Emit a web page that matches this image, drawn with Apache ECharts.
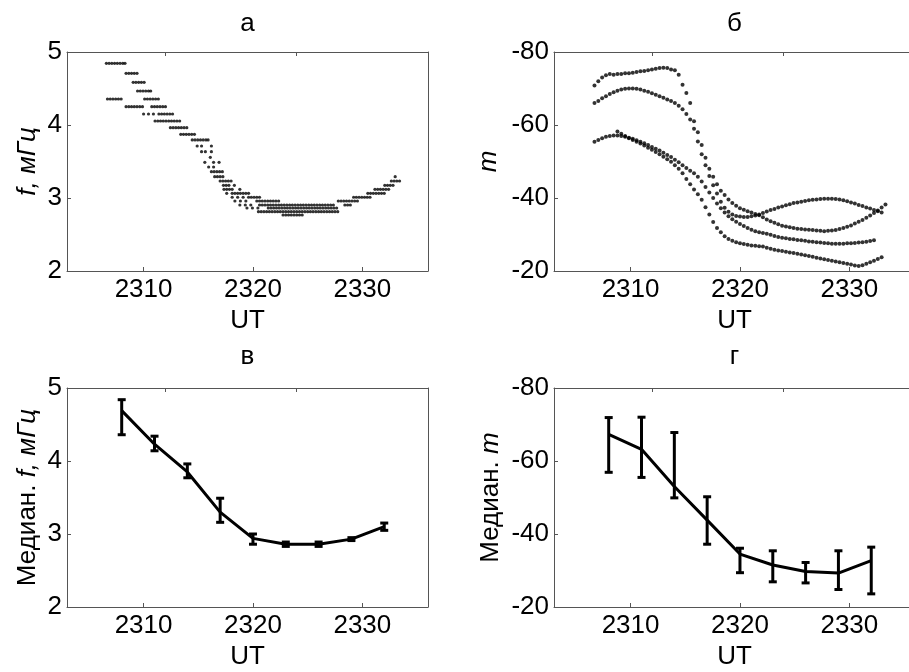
<!DOCTYPE html>
<html>
<head>
<meta charset="utf-8">
<script src="https://cdn.jsdelivr.net/npm/echarts@6/dist/echarts.min.js"></script>
<style>html,body{margin:0;padding:0;background:#fff}#c{width:909px;height:672px}</style>
</head>
<body>
<div id="c"></div>
<script>
// ---------- DATA ----------
const xTickVals = [2310, 2320, 2330];
const xTopTickVals = [2312, 2324];
const titles = ['а', 'б', 'в', 'г'];

// Panel а: quantized frequency levels (mHz) and UT times at which each level occurs
const fLevels = [4.845, 4.708, 4.585, 4.466, 4.356, 4.251, 4.151, 4.055, 3.963, 3.872, 3.795, 3.712, 3.635, 3.557,
  3.489, 3.425, 3.361, 3.292, 3.233, 3.174, 3.119, 3.064, 3.010, 2.959, 2.904, 2.863, 2.813, 2.767];
const fTimes = [
  [2306.6, 2306.85, 2307.1, 2307.35, 2307.6, 2307.85, 2308.1, 2308.3],
  [2308.4, 2308.65, 2308.9, 2309.15, 2309.4],
  [2309.05, 2309.3, 2309.55, 2309.8, 2310.05],
  [2309.45, 2309.7, 2309.95, 2310.2, 2310.45, 2310.65],
  [2306.7, 2306.95, 2307.2, 2307.45, 2307.7, 2307.95, 2310.1, 2310.35, 2310.6, 2310.85, 2311.1, 2311.35],
  [2308.4, 2308.65, 2308.9, 2309.15, 2309.4, 2309.65, 2309.9, 2310.75, 2311.0, 2311.25, 2311.5, 2311.75, 2312.0],
  [2310.0, 2310.45, 2310.9, 2311.4, 2311.65, 2311.9, 2312.15, 2312.4, 2312.65],
  [2311.05, 2311.3, 2311.55, 2311.8, 2312.05, 2312.3, 2312.55, 2312.8, 2313.05, 2313.3],
  [2312.45, 2312.7, 2312.95, 2313.2, 2313.45, 2313.7, 2313.95],
  [2313.4, 2313.65, 2313.9, 2314.15, 2314.4, 2314.65],
  [2314.45, 2314.7, 2314.95, 2315.2, 2315.45, 2315.7, 2315.9],
  [2314.9, 2315.3, 2316.2],
  [2315.3, 2315.65, 2316.2],
  [2316.1],
  [2315.6, 2316.4, 2316.9],
  [2315.95, 2316.4],
  [2316.2, 2316.45, 2316.7, 2316.95, 2317.2],
  [2316.5, 2316.75, 2317.0, 2317.25, 2333.0],
  [2317.0, 2317.25, 2317.5, 2317.75, 2318.0, 2332.65, 2332.9, 2333.15, 2333.4],
  [2317.3, 2317.55, 2317.8, 2318.3, 2332.05, 2332.3, 2332.55, 2332.8],
  [2317.35, 2317.6, 2317.85, 2318.1, 2318.8, 2331.15, 2331.4, 2331.65, 2331.9, 2332.15, 2332.4],
  [2317.6, 2318.1, 2318.35, 2318.6, 2318.85, 2319.1, 2319.35, 2319.6, 2330.5, 2330.75, 2331.0, 2331.25, 2331.5, 2331.75, 2332.0],
  [2318.1, 2318.6, 2319.1, 2319.6, 2319.85, 2320.1, 2320.35, 2320.6, 2329.2, 2329.45, 2329.7, 2329.95, 2330.2, 2330.45, 2330.7],
  [2318.35, 2318.85, 2319.35, 2320.35, 2320.6, 2320.85, 2321.1, 2321.35, 2321.6, 2321.85, 2322.1, 2322.35,
   2327.8, 2328.05, 2328.3, 2328.55, 2328.8, 2329.05, 2329.3, 2329.55],
  [2318.8, 2319.3, 2319.8, 2320.6, 2320.85, 2321.1, 2321.35, 2321.6, 2321.85, 2322.1, 2322.35, 2322.6, 2322.85,
   2323.1, 2323.35, 2323.6, 2323.85, 2324.1, 2324.35, 2324.6, 2324.85, 2325.1, 2325.35, 2325.6, 2325.85, 2326.1,
   2326.35, 2326.6, 2326.85, 2327.1, 2327.35, 2328.4, 2328.65, 2328.9],
  [2319.45, 2319.95, 2320.45, 2321.4, 2321.65, 2321.9, 2322.15, 2322.4, 2322.65, 2322.9, 2323.15, 2323.4, 2323.65,
   2323.9, 2324.15, 2324.4, 2324.65, 2324.9, 2325.15, 2325.4, 2325.65, 2325.9, 2326.15, 2326.4, 2326.65, 2326.9,
   2327.15, 2327.4, 2327.65],
  [2320.5, 2320.75, 2321.0, 2321.25, 2321.5, 2321.75, 2322.0, 2322.25, 2322.5, 2322.75, 2323.0, 2323.25, 2323.5,
   2323.75, 2324.0, 2324.25, 2324.5, 2324.75, 2325.0, 2325.25, 2325.5, 2325.75, 2326.0, 2326.25, 2326.5, 2326.75,
   2327.0, 2327.25, 2327.5, 2327.75],
  [2322.75, 2323.0, 2323.25, 2323.5, 2323.75, 2324.0, 2324.25, 2324.5]
];

// Panel б: azimuthal number m for four modes
const utB = [2306.7,2307.05,2307.4,2307.75,2308.1,2308.45,2308.8,2309.15,2309.5,2309.85,
  2310.2,2310.55,2310.9,2311.25,2311.6,2311.95,2312.3,2312.65,2313.0,2313.35,
  2313.7,2314.05,2314.4,2314.75,2315.1,2315.45,2315.8,2316.15,2316.5,2316.85,
  2317.2,2317.55,2317.9,2318.25,2318.6,2318.95,2319.3,2319.65,2320.0,2320.35,
  2320.7,2321.05,2321.4,2321.75,2322.1,2322.45,2322.8,2323.15,2323.5,2323.85,
  2324.2,2324.55,2324.9,2325.25,2325.6,2325.95,2326.3,2326.65,2327.0,2327.35,
  2327.7,2328.05,2328.4,2328.75,2329.1,2329.45,2329.8,2330.15,2330.5,2330.85,
  2331.2,2331.55,2331.9,2332.25,2332.6,2332.95,2333.3];
const m1 = [-70.8,-72.0,-73.0,-73.6,-74.0,-73.8,-74.0,-74.0,-74.2,-74.2,
  -74.3,-74.5,-74.7,-74.8,-75.0,-75.2,-75.4,-75.6,-75.7,-75.6,
  -75.2,-75.0,-73.8,-71.0,-68.8,-66.0,-61.0,-58.0,-54.5,-51.0,
  -48.0,-45.8,-43.8,-42.0,-40.8,-39.6,-38.6,-37.9,-37.2,-36.8,
  -36.4,-36.0,-35.6,-35.3,-34.7,-34.1,-33.6,-33.2,-32.8,-32.4,
  -32.2,-32.0,-31.8,-31.6,-31.5,-31.4,-31.3,-31.2,-31.1,-31.0,
  -30.9,-31.0,-31.1,-31.2,-31.5,-31.8,-32.1,-32.5,-33.0,-33.5,
  -34.0,-34.6,-35.2,-35.9,-36.6,-37.4,-38.2];
const m2 = [-66.0,-66.6,-67.3,-67.9,-68.5,-69.0,-69.4,-69.7,-69.9,-70.0,
  -70.0,-69.9,-69.7,-69.4,-69.1,-68.7,-68.3,-67.9,-67.5,-67.0,
  -66.6,-66.0,-65.3,-64.3,-63.0,-61.5,-59.0,-55.5,-52.0,-49.0,
  -46.0,-43.5,-41.2,-39.0,-37.3,-36.2,-35.5,-35.1,-34.9,-34.8,
  -34.8,-35.0,-35.2,-35.5,-35.9,-36.3,-36.7,-37.0,-37.4,-37.7,
  -38.0,-38.3,-38.6,-38.8,-39.0,-39.2,-39.4,-39.5,-39.6,-39.7,
  -39.8,-39.8,-39.8,-39.7,-39.6,-39.4,-39.1,-38.8,-38.5,-38.1,
  -37.8,-37.4,-37.1,-36.7,-36.4,-36.0,null];
const m3 = [-55.4,-55.9,-56.4,-56.8,-57.0,-57.1,-57.1,-57.0,-56.8,-56.5,
  -56.2,-55.8,-55.4,-55.0,-54.5,-54.0,-53.5,-53.0,-52.4,-51.8,
  -51.2,-50.5,-49.8,-49.0,-48.2,-47.5,-46.8,-45.8,-44.5,-43.0,
  -41.5,-40.0,-38.5,-37.2,-36.0,-35.0,-34.2,-33.5,-32.9,-32.3,
  -31.8,-31.3,-30.9,-30.6,-30.4,-30.2,-29.9,-29.6,-29.3,-29.1,
  -29.0,-28.8,-28.7,-28.5,-28.4,-28.3,-28.1,-28.0,-27.9,-27.8,
  -27.7,-27.6,-27.5,-27.5,-27.5,-27.5,-27.6,-27.6,-27.7,-27.8,
  -27.9,-28.0,-28.2,-28.4,null,null,null];
const m4 = [null,null,null,null,null,null,-58.2,-57.6,-57.0,-56.4,
  -55.9,-55.4,-54.9,-54.4,-53.8,-53.2,-52.6,-52.0,-51.3,-50.6,
  -49.9,-49.0,-48.0,-46.8,-45.2,-43.8,-42.3,-41.0,-39.5,-37.5,
  -35.5,-33.4,-31.8,-30.6,-29.5,-28.8,-28.3,-27.9,-27.6,-27.4,
  -27.2,-27.0,-26.9,-26.8,-26.7,-26.4,-26.1,-25.8,-25.6,-25.5,
  -25.3,-25.1,-24.9,-24.7,-24.5,-24.3,-24.1,-23.9,-23.6,-23.4,
  -23.2,-23.0,-22.8,-22.6,-22.4,-22.2,-22.0,-21.8,-21.5,-21.4,
  -21.6,-22.0,-22.4,-22.8,-23.3,-23.8,null];

// Panels в, г: medians with spread
const utMed = [2308, 2311, 2314, 2317, 2320, 2323, 2326, 2329, 2332];
const fMed = [4.69, 4.23, 3.85, 3.30, 2.94, 2.86, 2.86, 2.93, 3.10];
const fHi  = [4.84, 4.34, 3.96, 3.49, 3.00, 2.89, 2.89, 2.95, 3.15];
const fLo  = [4.36, 4.14, 3.77, 3.16, 2.86, 2.83, 2.83, 2.91, 3.05];
const mMed = [-67.3, -63.2, -53.0, -43.8, -34.5, -31.5, -29.7, -29.3, -32.7];
const mTop = [-71.9, -72.0, -67.8, -50.2, -36.1, -35.4, -32.2, -35.4, -36.4];
const mBot = [-56.9, -55.5, -49.9, -37.2, -29.4, -26.9, -26.6, -24.8, -23.6];

// ---------- BUILD ----------
const FONT = '"Liberation Sans", Arial, Helvetica, sans-serif';
const AX = '#555';
const FS = 26;

const dataA = [];
fTimes.forEach((row, i) => row.forEach(t => dataA.push([t, fLevels[i]])));
function pairs(xs, ys) { const out = []; xs.forEach((x, i) => { if (ys[i] != null) out.push([x, ys[i]]); }); return out; }
const dataB = [].concat(pairs(utB, m1), pairs(utB, m2), pairs(utB, m3), pairs(utB, m4));
const lineF = utMed.map((x, i) => [x, fMed[i]]);
const lineM = utMed.map((x, i) => [x, mMed[i]]);
const errF = utMed.map((x, i) => [x, fLo[i], fHi[i]]);
const errM = utMed.map((x, i) => [x, mTop[i], mBot[i]]);

const grids = [
  {left: 67, top: 52, width: 361, height: 219},
  {left: 554, top: 52, width: 361, height: 219},
  {left: 67, top: 388, width: 361, height: 219},
  {left: 554, top: 388, width: 361, height: 219}
];

const xAxis = [], yAxis = [];
const rich = {i: {fontStyle: 'italic', fontSize: FS, fontFamily: FONT, color: '#000'}, n: {fontSize: FS, fontFamily: FONT, color: '#000'}};
const yNames = ['{i|f, мГц}', '{i|m}', '{n|Медиан. }{i|f, мГц}', '{n|Медиан. }{i|m}'];
const yGaps = [26, 52, 26, 50];
const plain = v => String(v);
grids.forEach((g, gi) => {
  xAxis.push({type: 'value', gridIndex: gi, min: 2303, max: 2336, position: 'bottom',
    axisLine: {show: true, onZero: false, lineStyle: {color: AX, width: 1}},
    axisTick: {show: true, inside: true, length: 4, customValues: xTickVals, lineStyle: {color: AX}},
    axisLabel: {customValues: xTickVals, formatter: plain, fontSize: FS, fontFamily: FONT, color: '#000', margin: 6},
    splitLine: {show: false},
    name: 'UT', nameLocation: 'middle', nameGap: 37,
    nameTextStyle: {fontSize: FS, fontFamily: FONT, color: '#000'}});
  xAxis.push({type: 'value', gridIndex: gi, min: 2303, max: 2336, position: 'top',
    axisLine: {show: true, onZero: false, lineStyle: {color: AX, width: 1}},
    axisTick: {show: true, inside: true, length: 4, customValues: xTopTickVals, lineStyle: {color: AX}},
    axisLabel: {show: false}, splitLine: {show: false}});
  const isM = gi % 2 === 1;
  yAxis.push({type: 'value', gridIndex: gi, position: 'left',
    min: isM ? -80 : 2, max: isM ? -20 : 5, interval: isM ? 20 : 1, inverse: isM,
    axisLine: {show: true, onZero: false, lineStyle: {color: AX, width: 1}},
    axisTick: {show: true, inside: true, length: 4, lineStyle: {color: AX}},
    axisLabel: {formatter: plain, fontSize: FS, fontFamily: FONT, color: '#000', margin: 5},
    splitLine: {show: false},
    name: yNames[gi], nameLocation: 'middle', nameRotate: 90, nameGap: yGaps[gi],
    nameTextStyle: {fontSize: FS, fontFamily: FONT, color: '#000', rich: rich}});
  yAxis.push({type: 'value', gridIndex: gi, position: 'right',
    min: isM ? -80 : 2, max: isM ? -20 : 5, interval: isM ? 20 : 1, inverse: isM,
    axisLine: {show: true, onZero: false, lineStyle: {color: AX, width: 1}},
    axisTick: {show: false}, axisLabel: {show: false}, splitLine: {show: false}});
});

function errRender(params, api) {
  const x = api.value(0);
  const p1 = api.coord([x, api.value(1)]);
  const p2 = api.coord([x, api.value(2)]);
  const c = 4;
  const st = {stroke: '#000', lineWidth: 3};
  return {type: 'group', children: [
    {type: 'line', shape: {x1: p1[0], y1: p1[1], x2: p2[0], y2: p2[1]}, style: st},
    {type: 'line', shape: {x1: p1[0] - c, y1: p1[1], x2: p1[0] + c, y2: p1[1]}, style: st},
    {type: 'line', shape: {x1: p2[0] - c, y1: p2[1], x2: p2[0] + c, y2: p2[1]}, style: st}
  ]};
}

const titleX = [247.5, 734.5, 247.5, 734.5];
const titleY = [24, 24, 357, 357];
const graphic = titles.map((t, i) => ({type: 'text', x: titleX[i], y: titleY[i],
  style: {text: t, fontSize: FS, fontFamily: FONT, fill: '#000', align: 'center', verticalAlign: 'middle'}}));

const option = {
  animation: false,
  backgroundColor: '#fff',
  grid: grids.map(g => Object.assign({containLabel: false, outerBoundsMode: 'none'}, g)),
  xAxis: xAxis,
  yAxis: yAxis,
  graphic: graphic,
  series: [
    {type: 'scatter', xAxisIndex: 0, yAxisIndex: 0, data: dataA, symbol: 'circle', symbolSize: 3.2,
      itemStyle: {color: '#000'}, silent: true},
    {type: 'scatter', xAxisIndex: 2, yAxisIndex: 2, data: dataB, symbol: 'circle', symbolSize: 4,
      itemStyle: {color: '#000'}, silent: true},
    {type: 'custom', xAxisIndex: 4, yAxisIndex: 4, data: errF, renderItem: errRender, silent: true},
    {type: 'line', xAxisIndex: 4, yAxisIndex: 4, data: lineF, symbol: 'none',
      lineStyle: {color: '#000', width: 3}, silent: true},
    {type: 'custom', xAxisIndex: 6, yAxisIndex: 6, data: errM, renderItem: errRender, silent: true},
    {type: 'line', xAxisIndex: 6, yAxisIndex: 6, data: lineM, symbol: 'none',
      lineStyle: {color: '#000', width: 3}, silent: true}
  ]
};

const chart = echarts.init(document.getElementById('c'), null, {renderer: 'canvas'});
chart.setOption(option);
</script>
</body>
</html>
